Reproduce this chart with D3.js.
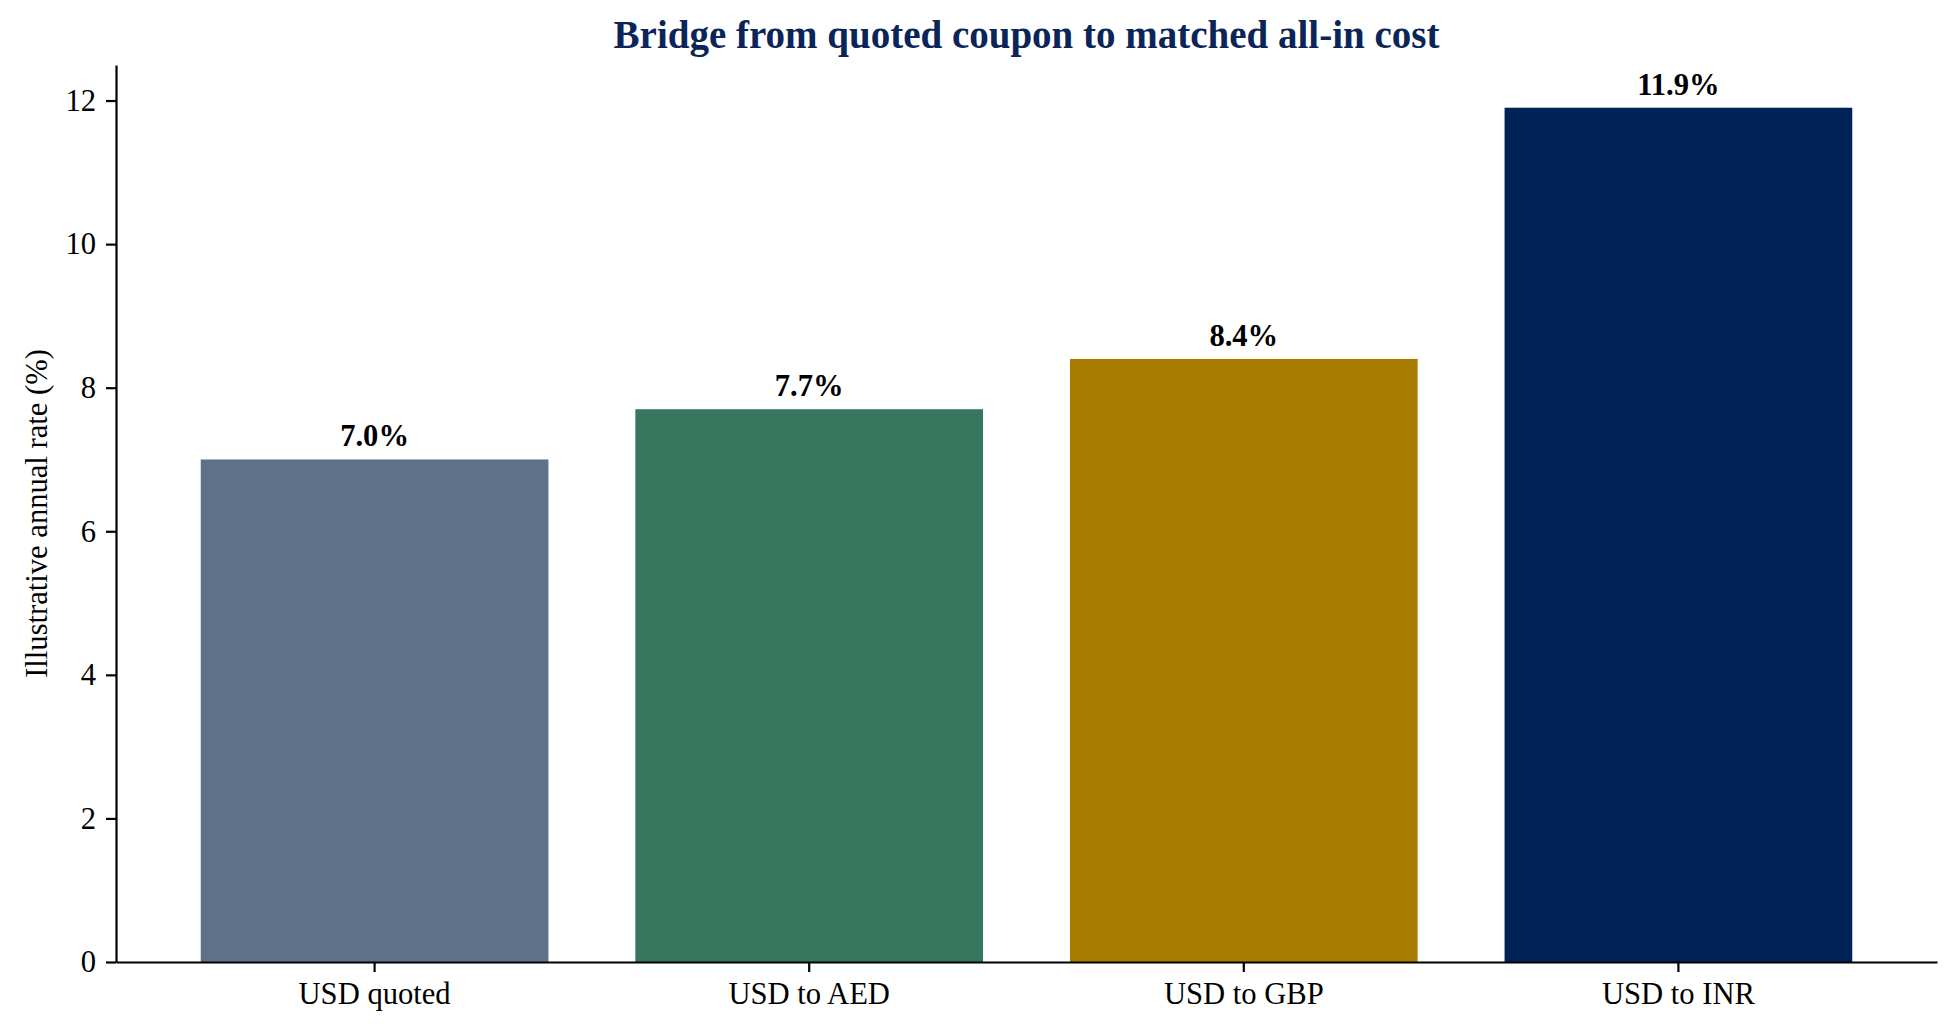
<!DOCTYPE html>
<html>
<head>
<meta charset="utf-8">
<script src="https://cdn.jsdelivr.net/npm/d3@7"></script>
<style>
  html, body { margin: 0; padding: 0; background: #fff; }
  text { font-family: "Liberation Serif", "Times New Roman", serif; }
</style>
</head>
<body>
<div id="chart"></div>
<script>
// data
const categories = ['USD quoted', 'USD to AED', 'USD to GBP', 'USD to INR']
const rates = [7.0, 7.7, 8.4, 11.9]
const barColors = ['#5f7089', '#35765c', '#a87c00', '#012257']
const yTicks = [0, 2, 4, 6, 8, 10, 12]

const dimensions = {
    width: 1959,
    height: 1034,
    margin: { left: 116, right: 22, top: 65, bottom: 72 }
}
dimensions.ctrWidth = dimensions.width - dimensions.margin.left - dimensions.margin.right
dimensions.ctrHeight = dimensions.height - dimensions.margin.top - dimensions.margin.bottom

const dataset = categories.map((c, i) => ({ name: c, value: rates[i], color: barColors[i] }))

const svg = d3.select('#chart')
    .append('svg')
    .attr('width', dimensions.width)
    .attr('height', dimensions.height)

const ctr = svg.append('g')
    .attr('transform', `translate(${dimensions.margin.left},${dimensions.margin.top})`)

// scales (matplotlib style: 5% headroom above tallest bar)
const xScale = d3.scaleBand()
    .domain(categories)
    .range([0, dimensions.ctrWidth])
    .paddingInner(0.2)
    .paddingOuter(0.195)

const yScale = d3.scaleLinear()
    .domain([0, d3.max(rates) * 1.05])
    .range([dimensions.ctrHeight, 0])

// bars
ctr.append('g').selectAll('rect')
    .data(dataset)
    .join('rect')
    .attr('x', d => xScale(d.name))
    .attr('y', d => yScale(d.value))
    .attr('width', xScale.bandwidth())
    .attr('height', d => yScale(0) - yScale(d.value))
    .attr('fill', d => d.color)

// value labels
ctr.append('g').selectAll('text')
    .data(dataset)
    .join('text')
    .attr('x', d => xScale(d.name) + xScale.bandwidth() / 2)
    .attr('y', d => yScale(d.value) - 13)
    .attr('text-anchor', 'middle')
    .style('font-size', '30.6px')
    .style('font-weight', 'bold')
    .attr('fill', '#000')
    .text(d => d.value.toFixed(1) + '%')

// axes
const xAxis = d3.axisBottom(xScale).tickSize(10).tickPadding(10).tickSizeOuter(0)
const yAxis = d3.axisLeft(yScale).tickValues(yTicks).tickSize(10).tickPadding(10).tickSizeOuter(0)

const xg = ctr.append('g')
    .attr('transform', `translate(0,${dimensions.ctrHeight})`)
    .call(xAxis)
const yg = ctr.append('g').call(yAxis)

;[xg, yg].forEach(g => {
    g.select('.domain').attr('stroke', '#000').attr('stroke-width', 2.2)
    g.selectAll('.tick line').attr('stroke', '#000').attr('stroke-width', 2.2)
    g.selectAll('.tick text')
        .attr('fill', '#000')
        .style('font-size', '30.6px')
        .style('font-family', '"Liberation Serif", "Times New Roman", serif')
})

// axis label
svg.append('text')
    .attr('transform', `translate(36,${dimensions.margin.top + dimensions.ctrHeight / 2}) rotate(-90)`)
    .attr('text-anchor', 'middle')
    .attr('dy', '0.35em')
    .style('font-size', '30.6px')
    .attr('fill', '#000')
    .text('Illustrative annual rate (%)')

// title
svg.append('text')
    .attr('x', dimensions.margin.left + dimensions.ctrWidth / 2)
    .attr('y', 47.5)
    .attr('text-anchor', 'middle')
    .style('font-size', '39px')
    .style('font-weight', 'bold')
    .attr('fill', '#0b2559')
    .text('Bridge from quoted coupon to matched all-in cost')
</script>
</body>
</html>
